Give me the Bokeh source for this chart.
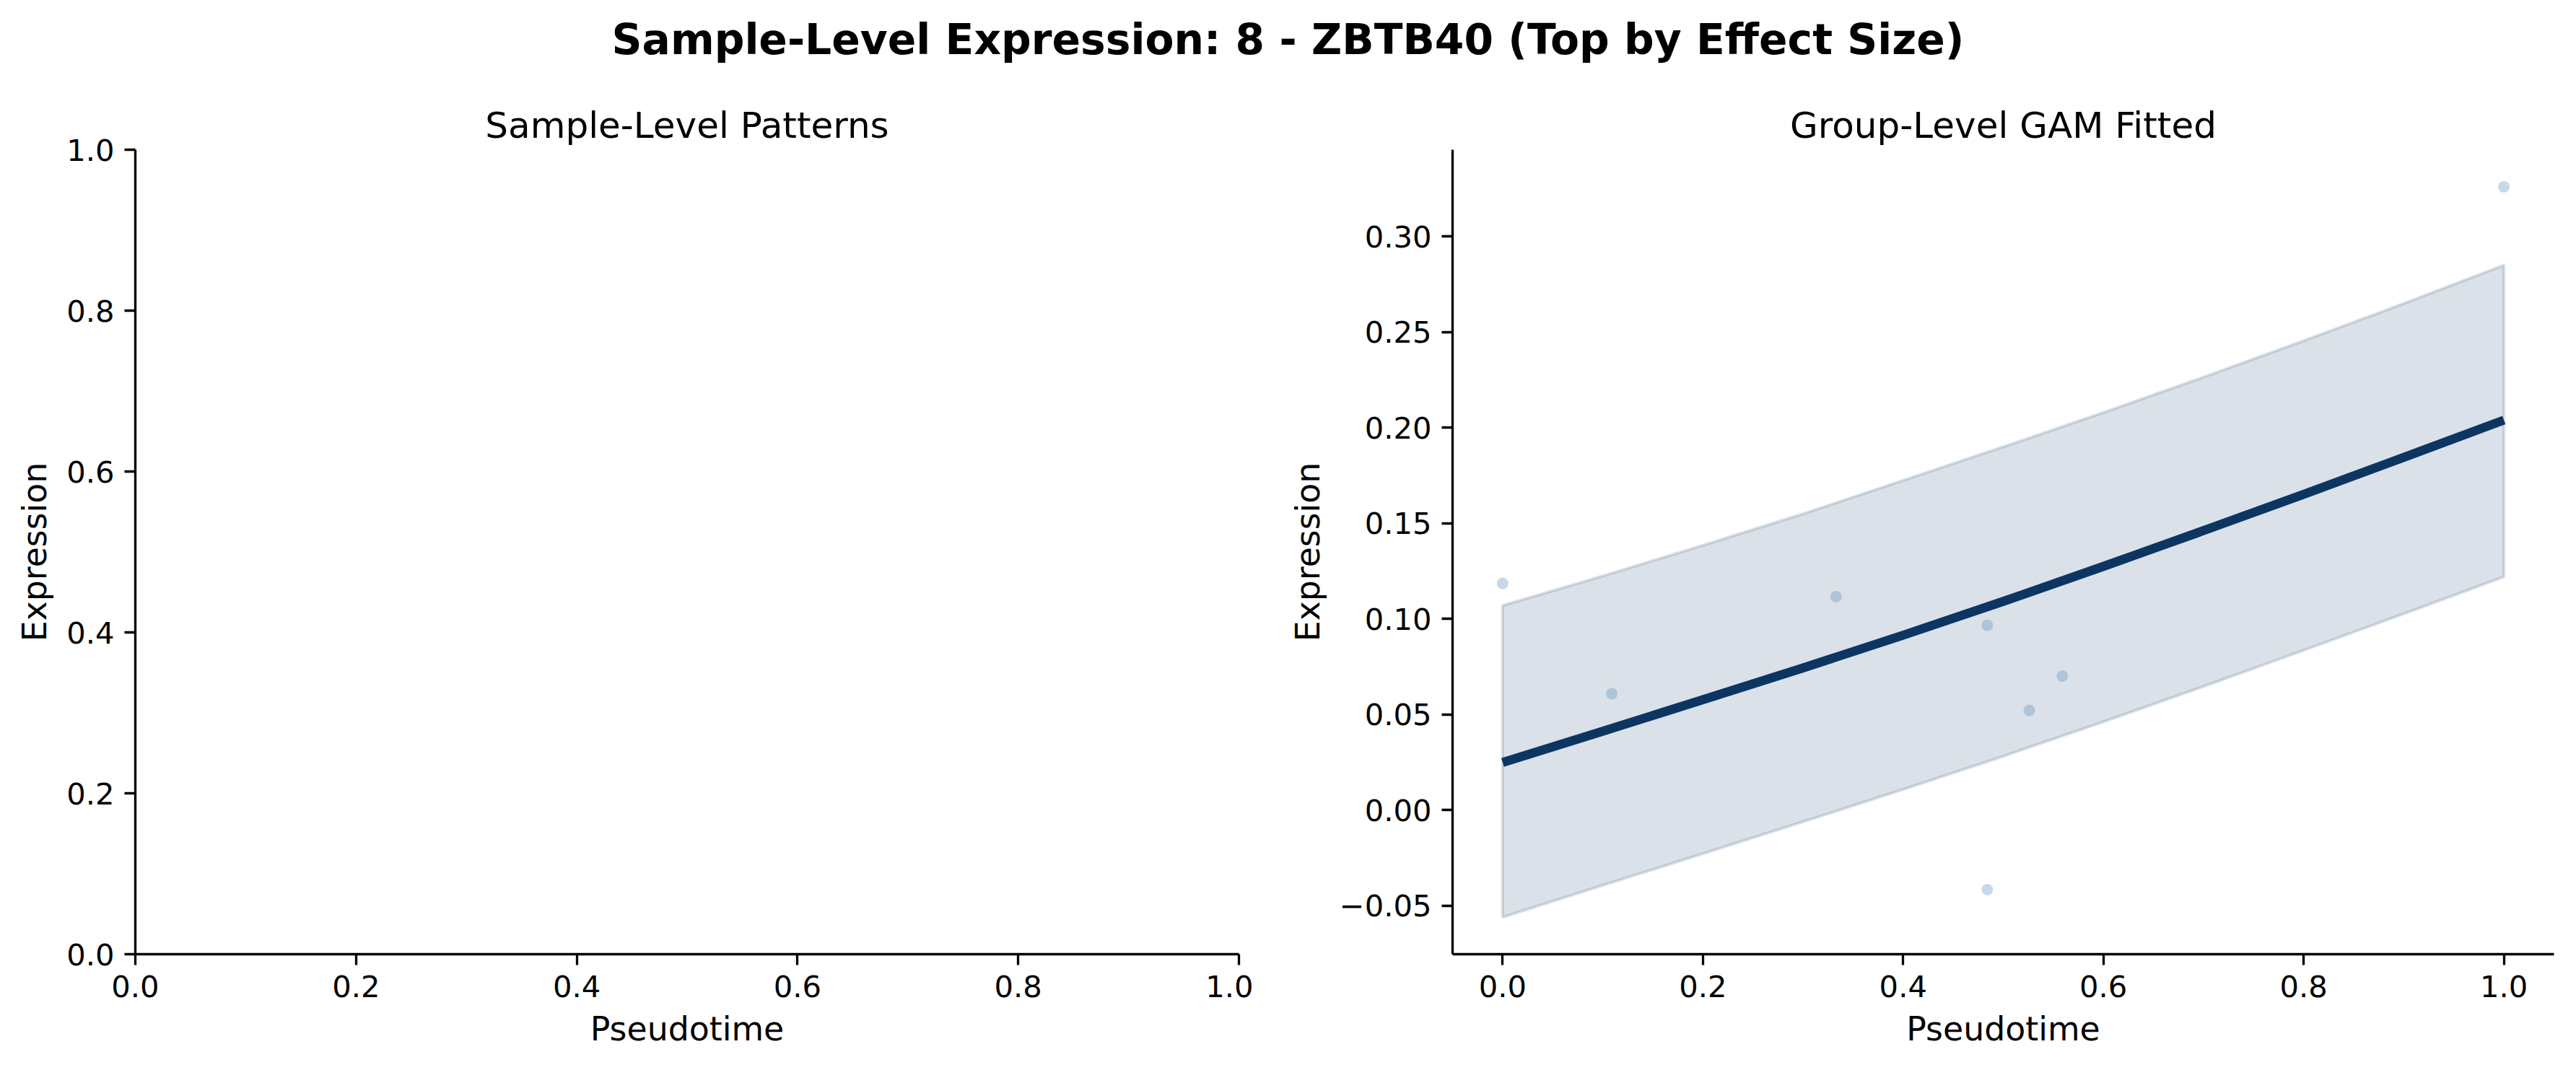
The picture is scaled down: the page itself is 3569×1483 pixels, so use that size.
from bokeh.plotting import figure
from bokeh.layouts import column, row
from bokeh.models import Div, FixedTicker, CustomJSTickFormatter, ColumnDataSource
from bokeh.embed import file_html
from bokeh.resources import INLINE

# ---------------- data ----------------
suptitle = "Sample-Level Expression: 8 - ZBTB40 (Top by Effect Size)"
left_title = "Sample-Level Patterns"
right_title = "Group-Level GAM Fitted"
x_label = "Pseudotime"
y_label = "Expression"

left_ticks = [0.0, 0.2, 0.4, 0.6, 0.8, 1.0]
right_x_ticks = [0.0, 0.2, 0.4, 0.6, 0.8, 1.0]
right_y_ticks = [-0.05, 0.0, 0.05, 0.10, 0.15, 0.20, 0.25, 0.30]

# sample-level observed points (group-level panel)
sample_pt = [0.0, 0.109, 0.333, 0.484, 0.526, 0.559, 0.484, 1.0]
sample_expr = [0.1186, 0.0609, 0.1117, 0.0967, 0.0522, 0.0701, -0.0415, 0.326]

# GAM fit and confidence band
fit_pt = [0.0, 0.1, 0.2, 0.3, 0.4, 0.5, 0.6, 0.7, 0.8, 0.9, 1.0]
fit_expr = [0.025, 0.0413, 0.0578, 0.0744, 0.0915, 0.1092, 0.1275, 0.1462, 0.1652, 0.1845, 0.204]
fit_upper = [0.107, 0.1225, 0.1385, 0.155, 0.1725, 0.190, 0.208, 0.2265, 0.2455, 0.265, 0.285]
fit_lower = [-0.056, -0.0393, -0.0228, -0.0061, 0.0108, 0.0282, 0.0462, 0.0647, 0.0836, 0.1027, 0.122]

# ---------------- style ----------------
FONT = "DejaVu Sans"
TICK_PX = "41.7px"
LABEL_PX = "45.8px"
SUBTITLE_PX = "50px"
NAVY = "#0d3562"
POINT_COLOR = "#4682b4"

DIV_H = 100
FRAME_TOP = 207
FRAME_BOTTOM = 1322
PAGE_H = 1483


def style(p):
    p.outline_line_color = None
    p.grid.visible = False
    p.background_fill_color = "white"
    p.border_fill_color = "white"
    p.title.text_font = FONT
    p.title.text_font_size = SUBTITLE_PX
    p.title.text_font_style = "normal"
    p.title.text_color = "black"
    p.title.align = "center"
    p.title.standoff = 10
    for ax in (p.xaxis[0], p.yaxis[0]):
        ax.axis_line_width = 3.3
        ax.major_tick_line_width = 3.3
        ax.major_tick_out = 15
        ax.major_tick_in = 0
        ax.minor_tick_line_color = None
        ax.major_label_text_font = FONT
        ax.major_label_text_font_size = TICK_PX
        ax.major_label_text_color = "black"
        ax.axis_label_text_font = FONT
        ax.axis_label_text_font_size = LABEL_PX
        ax.axis_label_text_font_style = "normal"
        ax.axis_label_text_color = "black"
        ax.major_label_standoff = 14
        ax.axis_label_standoff = 14


p1 = figure(
    frame_width=1529, frame_height=FRAME_BOTTOM - FRAME_TOP,
    x_range=(0, 1), y_range=(0, 1),
    min_border_left=187, min_border_right=20,
    min_border_top=FRAME_TOP - DIV_H, min_border_bottom=PAGE_H - FRAME_BOTTOM,
    output_backend="svg", toolbar_location=None, title=left_title,
    x_axis_label=x_label, y_axis_label=y_label,
)
style(p1)
p1.xaxis.ticker = FixedTicker(ticks=left_ticks)
p1.yaxis.ticker = FixedTicker(ticks=left_ticks)
p1.xaxis.formatter = CustomJSTickFormatter(code="return tick.toFixed(1);")
p1.yaxis.formatter = CustomJSTickFormatter(code="return tick.toFixed(1);")

p2 = figure(
    frame_width=1526, frame_height=FRAME_BOTTOM - FRAME_TOP,
    x_range=(-0.05, 1.05), y_range=(-0.0753, 0.3454),
    min_border_left=276, min_border_right=31,
    min_border_top=FRAME_TOP - DIV_H, min_border_bottom=PAGE_H - FRAME_BOTTOM,
    output_backend="svg", toolbar_location=None, title=right_title,
    x_axis_label=x_label, y_axis_label=y_label,
)
style(p2)
p2.xaxis.ticker = FixedTicker(ticks=right_x_ticks)
p2.yaxis.ticker = FixedTicker(ticks=right_y_ticks)
p2.xaxis.formatter = CustomJSTickFormatter(code="return tick.toFixed(1);")
p2.yaxis.formatter = CustomJSTickFormatter(
    code="var v = Math.abs(tick) < 1e-9 ? 0 : tick; return (v < 0 ? '\u2212' : '') + Math.abs(v).toFixed(2);"
)

# confidence band (polygon: upper forward, lower backward)
band_x = fit_pt + fit_pt[::-1]
band_y = fit_upper + fit_lower[::-1]
p2.patch(band_x, band_y, fill_color=NAVY, fill_alpha=0.15,
         line_color=NAVY, line_alpha=0.15, line_width=4.2)

# sample points
pts = ColumnDataSource(dict(x=sample_pt, y=sample_expr))
p2.scatter("x", "y", source=pts, size=16, fill_color=POINT_COLOR, fill_alpha=0.3,
           line_color=None)

# GAM fit line
p2.line(fit_pt, fit_expr, line_color=NAVY, line_width=12.5, line_join="round")

title_div = Div(
    text=f'<div style="font-family:\'{FONT}\'; font-weight:bold; font-size:58.3px; '
         f'line-height:68px; text-align:center; width:3569px; padding-top:21px; color:black;">'
         f'{suptitle}</div>',
    width=3569, height=DIV_H, margin=(0, 0, 0, 0),
)

layout = column(title_div, row(p1, p2, margin=(0, 0, 0, 0)), margin=(0, 0, 0, 0))

open("out.html", "w").write(file_html(layout, INLINE))
